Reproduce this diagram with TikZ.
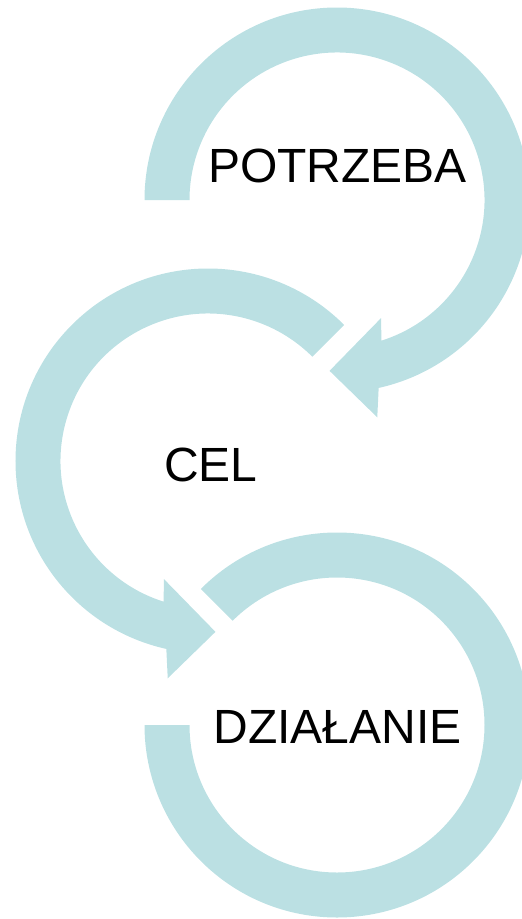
\documentclass[tikz,border=0pt]{standalone}
\usepackage{fontspec}
\setmainfont{Liberation Sans}
\definecolor{arrowfill}{RGB}{187,224,227}
\begin{document}
\begin{tikzpicture}[
  band/.style={fill=arrowfill, draw=none},
  label/.style={font=\fontsize{48}{57}\selectfont, text=black, inner sep=0pt, anchor=base}
]
\useasboundingbox (0pt,0pt) rectangle (522pt,-919pt);
\clip (0pt,0pt) rectangle (522pt,-919pt);
\def\Ro{192.5pt}
\def\Ri{147.5pt}
% top arrow (POTRZEBA)
\begin{scope}[shift={(337pt,-200pt)}]
  \fill[band] (180:\Ro) arc[start angle=180, end angle=-77.5, radius=\Ro]
    -- (-79.5:221pt) -- (-92.5:171pt) -- (-69.5:126pt) -- (-72.5:\Ri)
    arc[start angle=-72.5, end angle=180, radius=\Ri] -- cycle;
\end{scope}
% middle arrow (CEL)
\begin{scope}[shift={(208pt,-461pt)}]
  \fill[band] (45:\Ro) arc[start angle=45, end angle=257.5, radius=\Ro]
    -- (259.5:221pt) -- (272.5:171pt) -- (249.5:126pt) -- (252.5:\Ri)
    arc[start angle=252.5, end angle=45, radius=\Ri] -- cycle;
\end{scope}
% bottom arc (DZIAŁANIE)
\begin{scope}[shift={(337pt,-725pt)}]
  \fill[band] (135:\Ro) arc[start angle=135, end angle=-180, radius=\Ro]
    -- (-180:\Ri) arc[start angle=-180, end angle=135, radius=\Ri] -- cycle;
\end{scope}
\node[label] (potrzeba) at (337.5pt,-182pt) {POTRZEBA};
\node[label] (cel) at (211pt,-481pt) {CEL};
\node[label] (dzialanie) at (337.5pt,-743pt) {DZIAŁANIE};
\end{tikzpicture}
\end{document}
